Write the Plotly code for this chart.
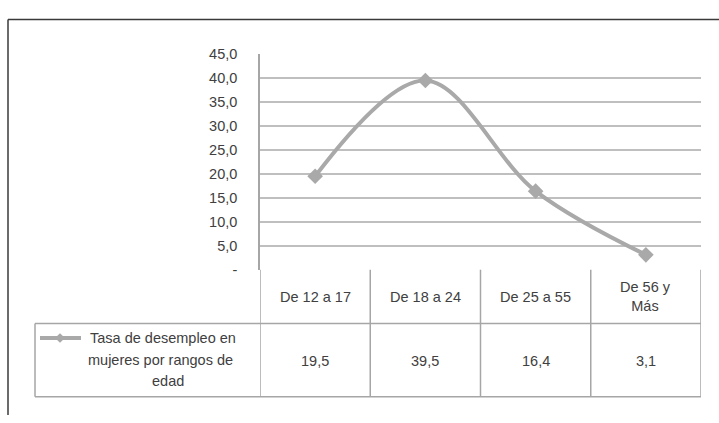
import plotly.graph_objects as go

# ---------------- data ----------------
categories = ["De 12 a 17", "De 18 a 24", "De 25 a 55", "De 56 y<br>Más"]
values = [19.5, 39.5, 16.4, 3.1]
value_labels = ["19,5", "39,5", "16,4", "3,1"]
series_name_lines = ["Tasa de desempleo en", "mujeres por rangos de", "edad"]
y_tickvals = [0, 5, 10, 15, 20, 25, 30, 35, 40, 45]
y_ticktext = ["-", "5,0", "10,0", "15,0", "20,0", "25,0", "30,0", "35,0", "40,0", "45,0"]

# ---------------- layout helpers ----------------
W, H = 719, 423


def px(x):
    return x / W


def py(y):
    return 1 - y / H


FONT = "Liberation Sans, Arial, sans-serif"
FS = 14.5
TXT = "#404040"
GRID = "#BFBFBF"
BORDER = "#A6A6A6"
SERIES = "#A9A9A9"

fig = go.Figure()
fig.add_trace(go.Scatter(
    x=categories, y=values, mode="lines+markers",
    line=dict(color=SERIES, width=4, shape="spline", smoothing=1),
    marker=dict(symbol="diamond", size=12, color=SERIES),
    cliponaxis=False, hoverinfo="skip",
))

shapes = []
annotations = []

# outer frame (left & top)
shapes.append(dict(type="line", xref="paper", yref="paper", x0=px(8), x1=px(8), y0=py(12), y1=0,
                   line=dict(color="#3a3a3a", width=1.5)))
shapes.append(dict(type="line", xref="paper", yref="paper", x0=px(8), x1=1, y0=py(12), y1=py(12),
                   line=dict(color="#3a3a3a", width=1.5)))

# data table
header_bottom = py(328)
table_bottom = py(404)
n = len(categories)
for i in range(n + 1):
    shapes.append(dict(type="line", xref="x", yref="paper", x0=i - 0.5, x1=i - 0.5,
                       y0=py(272), y1=table_bottom, line=dict(color=BORDER, width=1.5)))
shapes.append(dict(type="line", xref="paper", yref="paper", x0=px(35), x1=px(701),
                   y0=header_bottom, y1=header_bottom, line=dict(color=BORDER, width=1.5)))
shapes.append(dict(type="line", xref="paper", yref="paper", x0=px(35), x1=px(701),
                   y0=table_bottom, y1=table_bottom, line=dict(color=BORDER, width=1.5)))
shapes.append(dict(type="line", xref="paper", yref="paper", x0=px(35), x1=px(35),
                   y0=header_bottom, y1=table_bottom, line=dict(color=BORDER, width=1.5)))

# legend key inside the table
shapes.append(dict(type="line", xref="paper", yref="paper", x0=px(40), x1=px(81),
                   y0=py(343), y1=py(343), line=dict(color=SERIES, width=4)))
cx, cy, r = 60, 343, 5
shapes.append(dict(type="path", xref="paper", yref="paper",
                   path=f"M {px(cx - r)} {py(cy)} L {px(cx)} {py(cy - r)} L {px(cx + r)} {py(cy)} L {px(cx)} {py(cy + r)} Z",
                   fillcolor=SERIES, line=dict(color=SERIES, width=0)))

for cat, lab in zip(categories, value_labels):
    annotations.append(dict(x=cat, y=py(300), xref="x", yref="paper", text=cat, showarrow=False,
                            font=dict(family=FONT, size=FS, color=TXT), yanchor="middle"))
    annotations.append(dict(x=cat, y=py(367), xref="x", yref="paper", text=lab, showarrow=False,
                            font=dict(family=FONT, size=FS, color=TXT), yanchor="middle"))

for line_text, yy, xx in zip(series_name_lines, [343, 366, 388], [163, 160, 168]):
    annotations.append(dict(x=px(xx), y=py(yy), xref="paper", yref="paper", text=line_text,
                            showarrow=False, font=dict(family=FONT, size=FS, color=TXT),
                            xanchor="center", yanchor="middle"))

fig.update_layout(
    width=W, height=H,
    margin=dict(l=0, r=0, t=0, b=0),
    paper_bgcolor="white", plot_bgcolor="white",
    showlegend=False,
    shapes=shapes, annotations=annotations,
    xaxis=dict(domain=[px(260), px(701)], type="category", range=[-0.5, n - 0.5],
               showticklabels=False, showgrid=False, zeroline=False, showline=False),
    yaxis=dict(domain=[py(272), py(48)], range=[0, 45], tickvals=y_tickvals, ticktext=y_ticktext,
               showgrid=True, gridcolor=GRID, gridwidth=1.5, zeroline=False,
               showline=True, linecolor=BORDER, linewidth=1.5,
               ticks="", ticklabelstandoff=18,
               tickfont=dict(family=FONT, size=FS, color=TXT)),
)

fig.write_html(
    "out.html",
    config={"displayModeBar": False},
    post_script="document.body.style.margin='0';document.body.style.overflow='hidden';",
)
